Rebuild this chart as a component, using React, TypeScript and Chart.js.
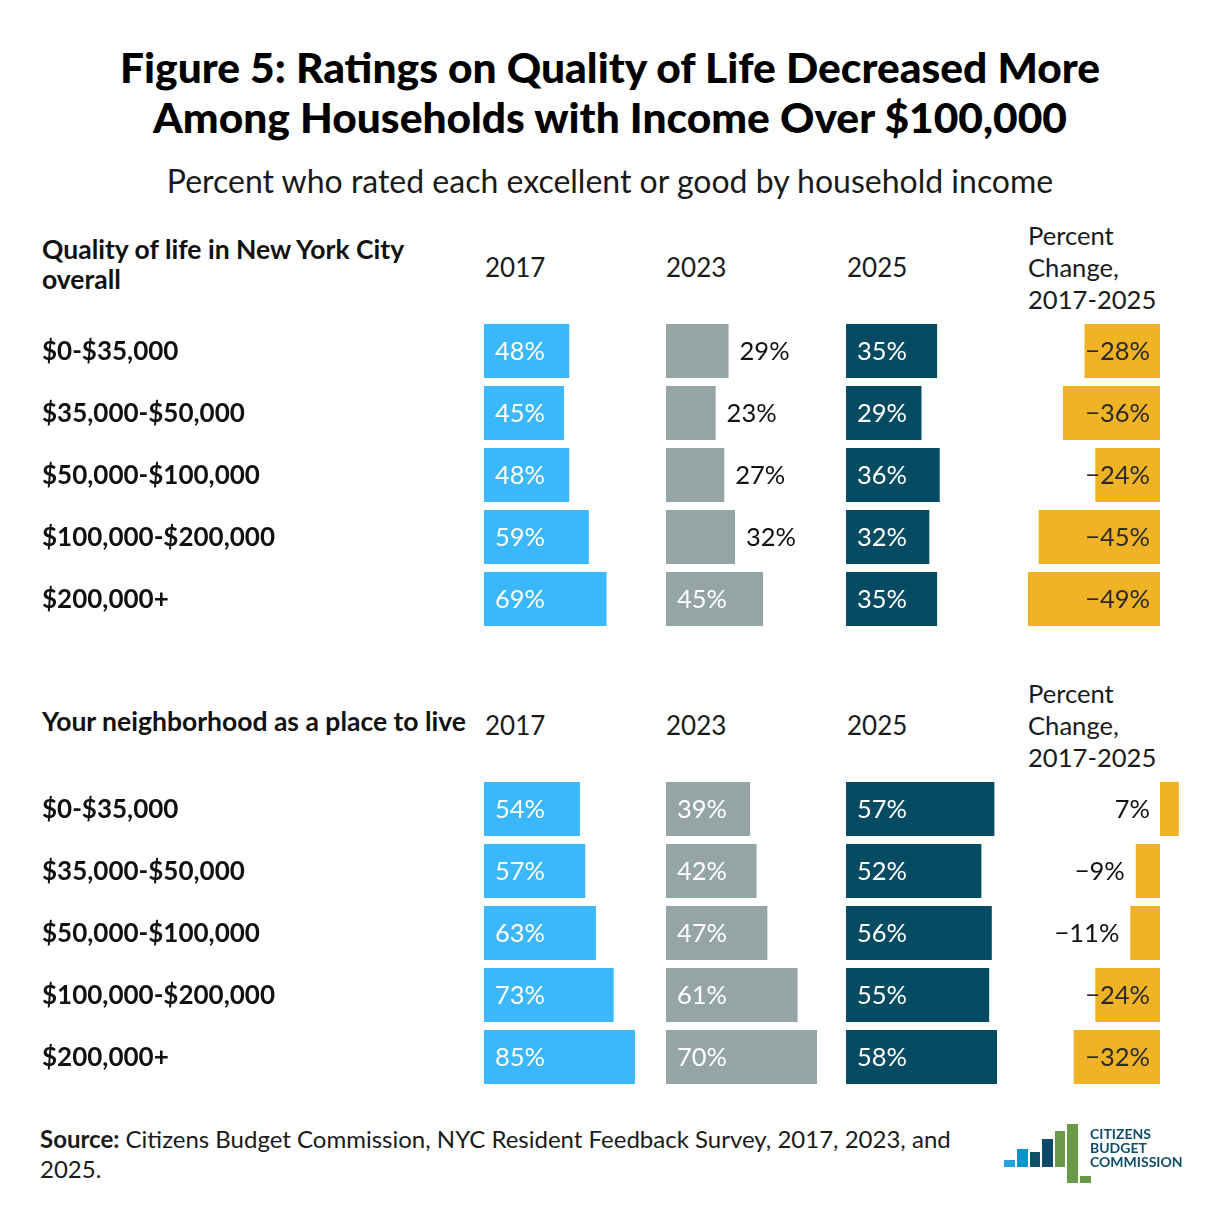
import React, { useEffect, useRef } from "react";
import { Chart, registerables } from "chart.js";

Chart.register(...registerables);

const incomeLabels = ["$0-$35,000", "$35,000-$50,000", "$50,000-$100,000", "$100,000-$200,000", "$200,000+"];

const qol2017 = [48, 45, 48, 59, 69];
const qol2023 = [29, 23, 27, 32, 45];
const qol2025 = [35, 29, 36, 32, 35];
const qolChange = [-28, -36, -24, -45, -49];

const nb2017 = [54, 57, 63, 73, 85];
const nb2023 = [39, 42, 47, 61, 70];
const nb2025 = [57, 52, 56, 55, 58];
const nbChange = [7, -9, -11, -24, -32];

const yearLabels = ["2017", "2023", "2025"];

const FONT = "Lato, 'Noto Sans', sans-serif";
const C2017 = "#3bb7fb";
const C2023 = "#95a4a5";
const C2025 = "#054c62";
const CCHG = "#f0b325";

const COL_W = 180;
const BAR_SPAN = 151;
const VAL_FONT = `400 25.5px ${FONT}`;

function fmt(v: number) {
  return (v < 0 ? "\u2212" + Math.abs(v) : String(v)) + "%";
}

function makeLabelPlugin(kind: "col" | "chg", rowLabels: boolean) {
  return {
    id: "valueLabels",
    afterDatasetsDraw(chart: any) {
      const ctx = chart.ctx;
      const meta = chart.getDatasetMeta(0);
      const values = chart.data.datasets[0].data as number[];
      ctx.save();
      ctx.font = VAL_FONT;
      ctx.textBaseline = "middle";
      meta.data.forEach((bar: any, i: number) => {
        const v = values[i];
        const txt = fmt(v);
        const y = bar.y + 1;
        const w = ctx.measureText(txt).width;
        const bw = Math.abs(bar.x - bar.base);
        if (kind === "col") {
          ctx.textAlign = "left";
          if (bw >= w + 24) {
            ctx.fillStyle = "#ffffff";
            ctx.fillText(txt, bar.base + 11, y);
          } else {
            ctx.fillStyle = "#111111";
            ctx.fillText(txt, bar.x + 11, y);
          }
        } else {
          const zero = chart.scales.x.getPixelForValue(0);
          ctx.textAlign = "right";
          if (v < 0 && bw < w * 0.7) {
            ctx.fillStyle = "#111111";
            ctx.fillText(txt, bar.x - 11, y);
          } else {
            ctx.fillStyle = v < 0 ? "#2b2b2b" : "#111111";
            ctx.fillText(txt, zero - 10, y);
          }
        }
      });
      if (rowLabels) {
        ctx.font = `700 26px ${FONT}`;
        ctx.fillStyle = "#111111";
        ctx.textAlign = "left";
        const ys = chart.scales.y;
        (chart.data.labels as string[]).forEach((lab: string, i: number) => {
          ctx.fillText(lab, 42, ys.getPixelForValue(i) + 1);
        });
      }
      ctx.restore();
    },
  };
}

function BarChart(props: {
  values: number[];
  color: string;
  kind: "col" | "chg";
  left: number;
  top: number;
  width: number;
  padLeft: number;
  min: number;
  max: number;
  rowLabels: boolean;
}) {
  const ref = useRef<HTMLCanvasElement | null>(null);
  useEffect(() => {
    if (!ref.current) return;
    const chart = new Chart(ref.current, {
      type: "bar",
      data: {
        labels: incomeLabels,
        datasets: [
          {
            data: props.values,
            backgroundColor: props.color,
            borderWidth: 0,
            barPercentage: 54 / 62,
            categoryPercentage: 1,
          },
        ],
      },
      options: {
        indexAxis: "y",
        animation: false,
        responsive: false,
        maintainAspectRatio: false,
        layout: { padding: { left: props.padLeft, right: 0, top: 0, bottom: 0 } },
        plugins: { legend: { display: false }, tooltip: { enabled: false } },
        scales: {
          x: { display: false, min: props.min, max: props.max },
          y: { display: false },
        },
      },
      plugins: [makeLabelPlugin(props.kind, props.rowLabels)],
    } as any);
    return () => chart.destroy();
  }, []);
  return (
    <canvas
      ref={ref}
      width={props.width}
      height={310}
      style={{ position: "absolute", left: props.left, top: props.top, width: props.width, height: 310 }}
    />
  );
}

function Txt(props: { x: number; y: number; size: number; weight?: number; lh?: number; color?: string; children: any; style?: any }) {
  const lh = props.lh ?? Math.round(props.size * 1.25);
  return (
    <div
      style={{
        position: "absolute",
        left: props.x,
        top: props.y - lh / 2,
        fontFamily: FONT,
        fontSize: props.size,
        fontWeight: props.weight ?? 400,
        lineHeight: lh + "px",
        color: props.color ?? "#1a1a1a",
        whiteSpace: "nowrap",
        ...props.style,
      }}
    >
      {props.children}
    </div>
  );
}

function Section(props: {
  top: number;
  title: string[];
  titleY: number;
  headY: number;
  pcY: number;
  v17: number[];
  v23: number[];
  v25: number[];
  chg: number[];
}) {
  const m17 = Math.max(...qol2017, ...nb2017);
  const m23 = Math.max(...qol2023, ...nb2023);
  const m25 = Math.max(...qol2025, ...nb2025);
  const cMin = Math.min(...qolChange, ...nbChange);
  const cMax = Math.max(...qolChange, ...nbChange);
  const pxPer = BAR_SPAN / (cMax - cMin);
  return (
    <>
      {props.title.map((t, i) => (
        <Txt key={t} x={42} y={props.titleY + i * 30} size={26.5} weight={700} lh={30} color="#111">
          {t}
        </Txt>
      ))}
      {yearLabels.map((y, i) => (
        <Txt key={y} x={485 + i * 181} y={props.headY} size={26} color="#1a1a1a">
          {y}
        </Txt>
      ))}
      {["Percent", "Change,", "2017-2025"].map((t, i) => (
        <Txt key={t} x={1028} y={props.pcY + i * 32} size={25.6} lh={32} color="#1a1a1a">
          {t}
        </Txt>
      ))}
      <BarChart values={props.v17} color={C2017} kind="col" left={0} top={props.top} width={484 + COL_W} padLeft={484} min={0} max={(m17 * COL_W) / BAR_SPAN} rowLabels={true} />
      <BarChart values={props.v23} color={C2023} kind="col" left={666} top={props.top} width={COL_W} padLeft={0} min={0} max={(m23 * COL_W) / BAR_SPAN} rowLabels={false} />
      <BarChart values={props.v25} color={C2025} kind="col" left={846} top={props.top} width={COL_W} padLeft={0} min={0} max={(m25 * COL_W) / BAR_SPAN} rowLabels={false} />
      <BarChart values={props.chg} color={CCHG} kind="chg" left={1000} top={props.top} width={210} padLeft={0} min={-160 / pxPer} max={50 / pxPer} rowLabels={false} />
    </>
  );
}

export default function App() {
  useEffect(() => {
    document.body.style.overflow = "hidden";
  }, []);
  const logoBars = [
    { x: 1004, top: 1160, bottom: 1167, c: "#1ea3dd" },
    { x: 1017, top: 1149, bottom: 1167, c: "#0a93d1" },
    { x: 1029.5, top: 1152, bottom: 1167, c: "#0f5068" },
    { x: 1042, top: 1139, bottom: 1167, c: "#0a4a69" },
    { x: 1054.5, top: 1131, bottom: 1167, c: "#6b994a" },
    { x: 1067, top: 1124, bottom: 1183, c: "#6b994a" },
    { x: 1080, top: 1176, bottom: 1183, c: "#6b994a" },
  ];
  return (
    <div style={{ position: "absolute", left: 0, top: 0, width: 1220, height: 1224, background: "#fff", overflow: "hidden" }}>
      <div
        style={{
          position: "absolute",
          left: 0,
          top: 42,
          width: 1220,
          textAlign: "center",
          fontFamily: FONT,
          fontWeight: 900,
          fontSize: 42.5,
          lineHeight: "50px",
          color: "#000",
        }}
      >
        Figure 5: Ratings on Quality of Life Decreased More
        <br />
        Among Households with Income Over $100,000
      </div>
      <div
        style={{
          position: "absolute",
          left: 0,
          top: 163,
          width: 1220,
          textAlign: "center",
          fontFamily: FONT,
          fontSize: 32,
          lineHeight: "36px",
          color: "#1a1a1a",
        }}
      >
        Percent who rated each excellent or good by household income
      </div>

      <Section
        top={320}
        title={["Quality of life in New York City", "overall"]}
        titleY={249}
        headY={267}
        pcY={235}
        v17={qol2017}
        v23={qol2023}
        v25={qol2025}
        chg={qolChange}
      />
      <Section
        top={778}
        title={["Your neighborhood as a place to live"]}
        titleY={721}
        headY={725}
        pcY={693}
        v17={nb2017}
        v23={nb2023}
        v25={nb2025}
        chg={nbChange}
      />

      <div
        style={{
          position: "absolute",
          left: 40,
          top: 1124,
          width: 1000,
          fontFamily: FONT,
          fontSize: 24,
          lineHeight: "30px",
          color: "#1a1a1a",
        }}
      >
        <b>Source:</b> Citizens Budget Commission, NYC Resident Feedback Survey, 2017, 2023, and
        <br />
        2025.
      </div>

      {logoBars.map((b, i) => (
        <div key={i} style={{ position: "absolute", left: b.x, top: b.top, width: 10.5, height: b.bottom - b.top, background: b.c }} />
      ))}
      <div
        style={{
          position: "absolute",
          left: 1090,
          top: 1127,
          fontFamily: FONT,
          fontSize: 14,
          fontWeight: 700,
          lineHeight: "14px",
          color: "#0d4d6a",
        }}
      >
        CITIZENS
        <br />
        BUDGET
        <br />
        COMMISSION
      </div>
    </div>
  );
}
